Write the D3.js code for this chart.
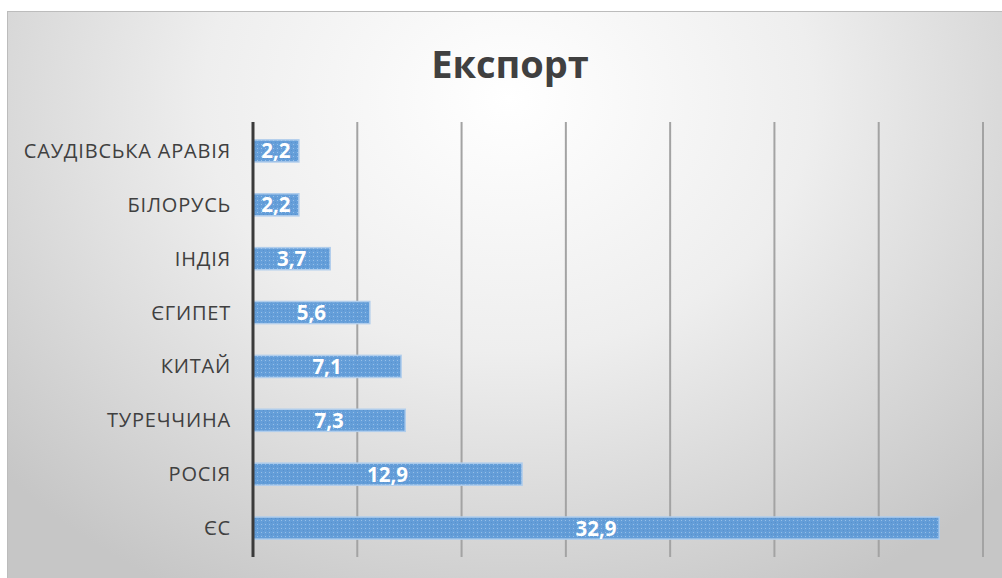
<!DOCTYPE html>
<html>
<head>
<meta charset="utf-8">
<script src="https://cdnjs.cloudflare.com/ajax/libs/d3/7.8.5/d3.min.js"></script>
<style>
  body { margin: 0; background: #fff; }
  svg { display: block; }
</style>
</head>
<body>
<div id="chart"></div>
<script>
// chart data
var countries = ["САУДІВСЬКА АРАВІЯ", "БІЛОРУСЬ", "ІНДІЯ", "ЄГИПЕТ", "КИТАЙ", "ТУРЕЧЧИНА", "РОСІЯ", "ЄС"];
var exportValues = [2.2, 2.2, 3.7, 5.6, 7.1, 7.3, 12.9, 32.9];
var xTicks = [0, 5, 10, 15, 20, 25, 30, 35];
var titleText = "Експорт";

var svgWidth = 1002;
var svgHeight = 578;

var margin = { top: 124, right: 19, bottom: 23, left: 253 };
var width = svgWidth - margin.left - margin.right;
var height = svgHeight - margin.top - margin.bottom;

var svg = d3.select("#chart")
  .append("svg")
  .attr("width", svgWidth)
  .attr("height", svgHeight);

var defs = svg.append("defs");

// background gradient, light in the middle, gray at the borders
var bg = defs.append("radialGradient")
  .attr("id", "bgGrad")
  .attr("cx", "50%").attr("cy", "15%").attr("r", "75%")
  .attr("gradientTransform", "translate(0.5,0.15) scale(0.9,1.3) translate(-0.5,-0.15)");
bg.append("stop").attr("offset", "0%").attr("stop-color", "#ffffff");
bg.append("stop").attr("offset", "45%").attr("stop-color", "#eeeeee");
bg.append("stop").attr("offset", "100%").attr("stop-color", "#c6c6c6");

// dotted bar fill
var pat = defs.append("pattern")
  .attr("id", "barPat")
  .attr("width", 4).attr("height", 4)
  .attr("patternUnits", "userSpaceOnUse");
pat.append("rect").attr("width", 4).attr("height", 4).attr("fill", "#5d9ad8");
pat.append("rect").attr("x", 0).attr("y", 0).attr("width", 1).attr("height", 1).attr("fill", "#93bde8");
pat.append("rect").attr("x", 2).attr("y", 2).attr("width", 1).attr("height", 1).attr("fill", "#518dcc");

svg.append("rect")
  .attr("x", 7.5).attr("y", 11.5)
  .attr("width", svgWidth).attr("height", svgHeight)
  .attr("fill", "url(#bgGrad)")
  .attr("stroke", "#bcbcbc")
  .attr("stroke-width", 1);

var chartGroup = svg.append("g")
  .attr("transform", `translate(${margin.left}, ${margin.top})`);

var xScale = d3.scaleLinear()
  .domain([0, 35])
  .range([0, 730]);

var yScale = d3.scaleBand()
  .domain(countries)
  .range([0, height])
  .paddingInner(0.59)
  .paddingOuter(0.295);

// gridlines
chartGroup.append("g")
  .selectAll("line")
  .data(xTicks.slice(1))
  .enter()
  .append("line")
  .attr("x1", d => xScale(d))
  .attr("x2", d => xScale(d))
  .attr("y1", -2)
  .attr("y2", height + 2)
  .attr("stroke", "#a3a3a3")
  .attr("stroke-width", 2);

// bars
chartGroup.selectAll("rect.bar")
  .data(exportValues)
  .enter()
  .append("rect")
  .attr("class", "bar")
  .attr("x", 0)
  .attr("y", (d, i) => yScale(countries[i]))
  .attr("width", d => xScale(d))
  .attr("height", yScale.bandwidth())
  .attr("fill", "url(#barPat)")
  .attr("stroke", "#b0cdec")
  .attr("stroke-width", 1.5)
  .attr("fill-opacity", 0.95);

// value labels
chartGroup.selectAll("text.val")
  .data(exportValues)
  .enter()
  .append("text")
  .attr("class", "val")
  .attr("x", d => xScale(d) / 2)
  .attr("y", (d, i) => yScale(countries[i]) + yScale.bandwidth() / 2 + 7.5)
  .attr("text-anchor", "middle")
  .attr("font-family", "Open Sans, Noto Sans, sans-serif")
  .attr("font-weight", "bold")
  .attr("font-size", 20.5)
  .attr("fill", "#ffffff")
  .text(d => String(d).replace(".", ","));

// category axis
var leftAxis = d3.axisLeft(yScale).tickSize(0).tickPadding(22);
var yAxisG = chartGroup.append("g").call(leftAxis);
yAxisG.select(".domain").remove();
yAxisG.selectAll("text")
  .attr("font-family", "Open Sans, Noto Sans, sans-serif")
  .attr("font-size", 20)
  .attr("letter-spacing", 0.8)
  .attr("fill", "#404040")
  .attr("dy", "0.35em");

chartGroup.append("line")
  .attr("x1", 0).attr("x2", 0)
  .attr("y1", -2).attr("y2", height + 2)
  .attr("stroke", "#3a3a3a")
  .attr("stroke-width", 3);

// title
svg.append("text")
  .attr("x", 510)
  .attr("y", 78)
  .attr("text-anchor", "middle")
  .attr("font-family", "Open Sans, Noto Sans, sans-serif")
  .attr("font-weight", "bold")
  .attr("font-size", 38)
  .attr("fill", "#404040")
  .text(titleText);
</script>
</body>
</html>
